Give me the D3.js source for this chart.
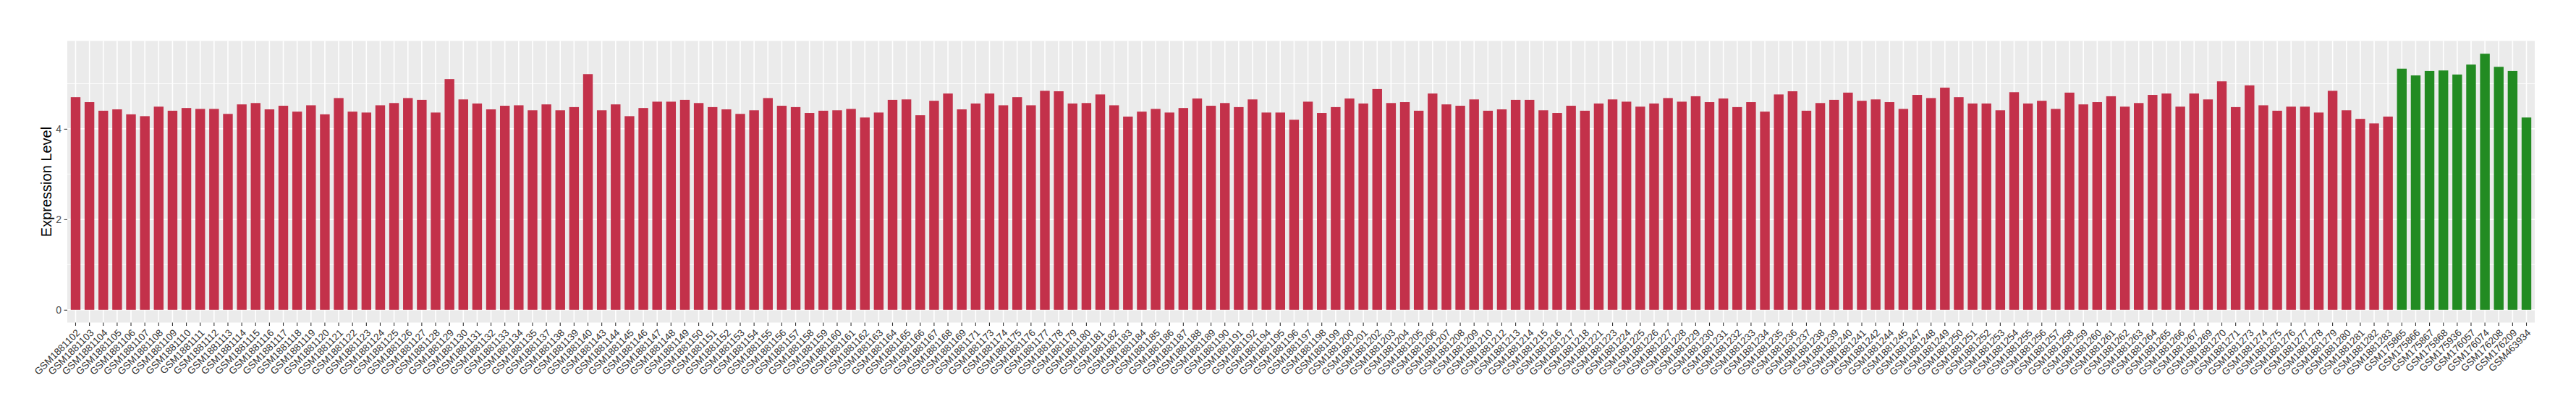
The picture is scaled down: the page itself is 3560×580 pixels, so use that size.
<!DOCTYPE html>
<html>
<head>
  <meta charset="utf-8">
  <title>Expression Level</title>
  <script src="https://cdn.jsdelivr.net/npm/d3@7"></script>
  <style type="text/css">
    body{
      margin:0;
      background:#ffffff;
    }
    text{
      font-family:"Liberation Sans", Arial, Helvetica, sans-serif;
    }
  </style>
</head>
<body>
<div id="chart"></div>
<script type="text/javascript">
// sample ids, in plotting order
var redSamples = [
  "GSM1881102","GSM1881103","GSM1881104","GSM1881105","GSM1881106","GSM1881107","GSM1881108","GSM1881109","GSM1881110","GSM1881111",
  "GSM1881112","GSM1881113","GSM1881114","GSM1881115","GSM1881116","GSM1881117","GSM1881118","GSM1881119","GSM1881120","GSM1881121",
  "GSM1881122","GSM1881123","GSM1881124","GSM1881125","GSM1881126","GSM1881127","GSM1881128","GSM1881129","GSM1881130","GSM1881131",
  "GSM1881132","GSM1881133","GSM1881134","GSM1881135","GSM1881137","GSM1881138","GSM1881139","GSM1881140","GSM1881143","GSM1881144",
  "GSM1881145","GSM1881146","GSM1881147","GSM1881148","GSM1881149","GSM1881150","GSM1881151","GSM1881152","GSM1881153","GSM1881154",
  "GSM1881155","GSM1881156","GSM1881157","GSM1881158","GSM1881159","GSM1881160","GSM1881161","GSM1881162","GSM1881163","GSM1881164",
  "GSM1881165","GSM1881166","GSM1881167","GSM1881168","GSM1881169","GSM1881171","GSM1881173","GSM1881174","GSM1881175","GSM1881176",
  "GSM1881177","GSM1881178","GSM1881179","GSM1881180","GSM1881181","GSM1881182","GSM1881183","GSM1881184","GSM1881185","GSM1881186",
  "GSM1881187","GSM1881188","GSM1881189","GSM1881190","GSM1881191","GSM1881192","GSM1881194","GSM1881195","GSM1881196","GSM1881197",
  "GSM1881198","GSM1881199","GSM1881200","GSM1881201","GSM1881202","GSM1881203","GSM1881204","GSM1881205","GSM1881206","GSM1881207",
  "GSM1881208","GSM1881209","GSM1881210","GSM1881212","GSM1881213","GSM1881214","GSM1881215","GSM1881216","GSM1881217","GSM1881218",
  "GSM1881221","GSM1881223","GSM1881224","GSM1881225","GSM1881226","GSM1881227","GSM1881228","GSM1881229","GSM1881230","GSM1881231",
  "GSM1881232","GSM1881233","GSM1881234","GSM1881235","GSM1881236","GSM1881237","GSM1881238","GSM1881239","GSM1881240","GSM1881241",
  "GSM1881242","GSM1881244","GSM1881245","GSM1881247","GSM1881248","GSM1881249","GSM1881250","GSM1881251","GSM1881252","GSM1881253",
  "GSM1881254","GSM1881255","GSM1881256","GSM1881257","GSM1881258","GSM1881259","GSM1881260","GSM1881261","GSM1881262","GSM1881263",
  "GSM1881264","GSM1881265","GSM1881266","GSM1881267","GSM1881269","GSM1881270","GSM1881271","GSM1881273","GSM1881274","GSM1881275",
  "GSM1881276","GSM1881277","GSM1881278","GSM1881279","GSM1881280","GSM1881281","GSM1881282","GSM1881283"
];
var redValues = [
  4.70,4.59,4.40,4.43,4.32,4.28,4.49,4.40,4.46,4.44,
  4.44,4.33,4.54,4.57,4.43,4.51,4.38,4.52,4.32,4.68,
  4.38,4.36,4.52,4.57,4.68,4.64,4.36,5.10,4.65,4.56,
  4.43,4.51,4.52,4.41,4.54,4.41,4.48,5.21,4.41,4.54,
  4.28,4.46,4.60,4.60,4.64,4.57,4.48,4.43,4.33,4.41,
  4.68,4.51,4.48,4.35,4.40,4.41,4.44,4.25,4.36,4.64,
  4.65,4.30,4.62,4.78,4.43,4.56,4.78,4.52,4.70,4.52,
  4.84,4.83,4.56,4.57,4.76,4.52,4.27,4.38,4.44,4.36,
  4.46,4.67,4.51,4.57,4.48,4.65,4.36,4.36,4.20,4.60,
  4.35,4.48,4.67,4.56,4.88,4.57,4.59,4.40,4.78,4.54,
  4.51,4.65,4.40,4.43,4.64,4.64,4.41,4.35,4.51,4.40,
  4.56,4.65,4.60,4.49,4.56,4.68,4.60,4.72,4.59,4.67,
  4.48,4.59,4.38,4.76,4.83,4.40,4.57,4.64,4.80,4.62,
  4.65,4.59,4.44,4.75,4.68,4.91,4.70,4.56,4.56,4.41,
  4.81,4.56,4.62,4.44,4.80,4.54,4.59,4.72,4.49,4.57,
  4.75,4.78,4.49,4.78,4.65,5.05,4.48,4.96,4.52,4.40,
  4.49,4.49,4.36,4.84,4.41,4.22,4.12,4.27
];
var greenSamples = ["GSM175865","GSM175866","GSM175867","GSM175868","GSM175936",
                    "GSM176057","GSM176074","GSM176208","GSM176209","GSM463934"];
var greenValues = [5.33,5.18,5.28,5.29,5.20,5.42,5.66,5.37,5.28,4.25];

var yTicks = [0, 2, 4];
var yMinorTicks = [1, 3, 5];
var yTitle = "Expression Level";

var groupColors = {red:"#C3314A", green:"#228B22"};

var data = [];
redSamples.forEach(function(s, i){ data.push({sample:s, value:redValues[i], group:"red"}); });
greenSamples.forEach(function(s, i){ data.push({sample:s, value:greenValues[i], group:"green"}); });

var width = 3560, height = 580;
// panel edges (window.top is reserved, so no plain "top")
var panelLeft = 93, panelRight = 3503, panelTop = 56.5, panelBottom = 445.5;

var svg = d3.select("#chart").append("svg")
    .attr("width", width)
    .attr("height", height);

svg.append("rect")
    .attr("width", width).attr("height", height)
    .attr("fill", "#ffffff");

// discrete x like ggplot: 0.6 unit expansion, bars 0.7 wide
var x = d3.scaleBand()
    .domain(data.map(function(d){ return d.sample; }))
    .range([panelLeft, panelRight])
    .paddingInner(0.3)
    .paddingOuter(0.25);

var yMax = d3.max(data, function(d){ return d.value; });
var y = d3.scaleLinear()
    .domain([-0.05 * yMax, yMax * 1.05])
    .range([panelBottom, panelTop]);

// panel
svg.append("rect")
    .attr("x", panelLeft).attr("y", panelTop)
    .attr("width", panelRight - panelLeft).attr("height", panelBottom - panelTop)
    .attr("fill", "#EBEBEB");

var grid = svg.append("g");
grid.selectAll("line.minor")
    .data(yMinorTicks)
    .enter().append("line")
      .attr("class", "minor")
      .attr("x1", panelLeft).attr("x2", panelRight)
      .attr("y1", function(d){ return y(d); })
      .attr("y2", function(d){ return y(d); })
      .attr("stroke", "#ffffff")
      .attr("stroke-width", 0.8);
grid.selectAll("line.major")
    .data(yTicks)
    .enter().append("line")
      .attr("class", "major")
      .attr("x1", panelLeft).attr("x2", panelRight)
      .attr("y1", function(d){ return y(d); })
      .attr("y2", function(d){ return y(d); })
      .attr("stroke", "#ffffff")
      .attr("stroke-width", 1.6);
grid.selectAll("line.vert")
    .data(data)
    .enter().append("line")
      .attr("class", "vert")
      .attr("x1", function(d){ return x(d.sample) + x.bandwidth() / 2; })
      .attr("x2", function(d){ return x(d.sample) + x.bandwidth() / 2; })
      .attr("y1", panelTop).attr("y2", panelBottom)
      .attr("stroke", "#ffffff")
      .attr("stroke-width", 1.6);

// bars
svg.append("g").selectAll("rect")
    .data(data)
    .enter().append("rect")
      .attr("x", function(d){ return x(d.sample); })
      .attr("width", x.bandwidth())
      .attr("y", function(d){ return y(d.value); })
      .attr("height", function(d){ return y(0) - y(d.value); })
      .attr("fill", function(d){ return groupColors[d.group]; });

// y axis
var yAxis = svg.append("g")
    .attr("transform", "translate(" + panelLeft + ",0)")
    .call(d3.axisLeft(y).tickValues(yTicks).tickSize(4.4).tickPadding(3.5).tickFormat(d3.format("d")));
yAxis.select(".domain").remove();
yAxis.selectAll(".tick line").attr("stroke", "#333333").attr("stroke-width", 1.1);
yAxis.selectAll(".tick text")
    .attr("fill", "#4D4D4D")
    .style("font-size", "14px");

// x axis, labels at 45 degrees
var xAxis = svg.append("g")
    .attr("transform", "translate(0," + panelBottom + ")")
    .call(d3.axisBottom(x).tickSize(4.4).tickPadding(0));
xAxis.select(".domain").remove();
xAxis.selectAll(".tick line").attr("stroke", "#333333").attr("stroke-width", 1.1);
xAxis.selectAll(".tick text")
    .attr("fill", "#333333")
    .style("font-size", "13.5px")
    .attr("text-anchor", "end")
    .attr("y", 0)
    .attr("dy", "0.72em")
    .attr("transform", "translate(0,8) rotate(-45)");

svg.append("text")
    .attr("transform", "translate(71," + ((panelTop + panelBottom) / 2) + ") rotate(-90)")
    .attr("text-anchor", "middle")
    .style("font-size", "20px")
    .attr("fill", "#000000")
    .text(yTitle);
</script>
</body>
</html>
